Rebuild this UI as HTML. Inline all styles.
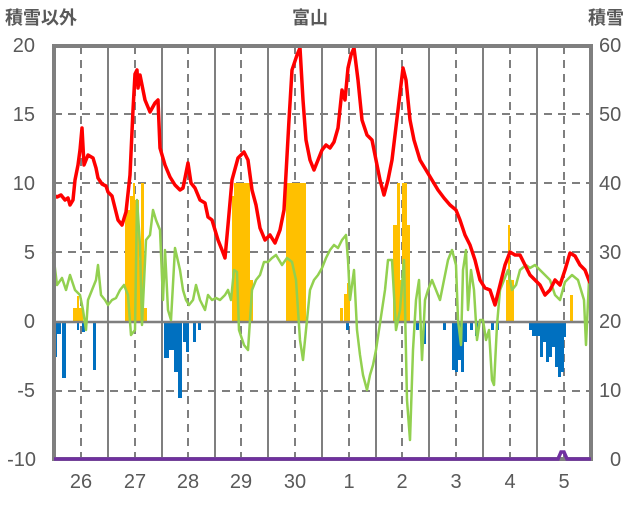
<!DOCTYPE html>
<html><head><meta charset="utf-8"><style>
body{margin:0;background:#fff;}
svg text{font-family:"Liberation Sans","Noto Sans CJK JP",sans-serif;fill:#595959;}
</style></head><body>
<svg width="636" height="501" xmlns="http://www.w3.org/2000/svg">
<rect width="636" height="501" fill="#fff"/>
<g stroke="#7f7f7f" stroke-width="2" stroke-dasharray="8,6">
<line x1="54" y1="114" x2="591" y2="114"/>
<line x1="54" y1="183" x2="591" y2="183"/>
<line x1="54" y1="252" x2="591" y2="252"/>
<line x1="54" y1="391" x2="591" y2="391"/>
</g>
<g stroke="#7f7f7f" stroke-width="2" stroke-dasharray="8,6">
<line x1="81" y1="46" x2="81" y2="459"/><line x1="135" y1="46" x2="135" y2="459"/>
<line x1="188" y1="46" x2="188" y2="459"/><line x1="241" y1="46" x2="241" y2="459"/>
<line x1="295" y1="46" x2="295" y2="459"/><line x1="349" y1="46" x2="349" y2="459"/>
<line x1="402" y1="46" x2="402" y2="459"/><line x1="456" y1="46" x2="456" y2="459"/>
<line x1="510" y1="46" x2="510" y2="459"/><line x1="564" y1="46" x2="564" y2="459"/>
</g>
<g stroke="#7f7f7f" stroke-width="2">
<line x1="108" y1="46" x2="108" y2="459"/><line x1="162" y1="46" x2="162" y2="459"/>
<line x1="215" y1="46" x2="215" y2="459"/><line x1="268" y1="46" x2="268" y2="459"/>
<line x1="322" y1="46" x2="322" y2="459"/><line x1="376" y1="46" x2="376" y2="459"/>
<line x1="429" y1="46" x2="429" y2="459"/><line x1="483" y1="46" x2="483" y2="459"/>
<line x1="537" y1="46" x2="537" y2="459"/>
</g>
<g fill="#ffc000">
<rect x="73" y="308" width="4" height="14"/><rect x="77" y="296" width="2" height="26"/><rect x="79" y="308" width="4" height="14"/>
<rect x="125" y="210" width="5" height="112"/><rect x="130" y="196" width="3" height="126"/><rect x="133" y="183" width="2" height="139"/>
<rect x="135" y="200" width="4" height="122"/><rect x="139" y="260" width="2" height="62"/><rect x="141" y="183" width="3" height="139"/><rect x="144" y="308" width="3" height="14"/>
<rect x="232" y="196" width="2" height="126"/><rect x="234" y="183" width="16" height="139"/><rect x="250" y="280" width="3" height="42"/>
<rect x="286" y="183" width="20" height="139"/>
<rect x="340" y="308" width="3" height="14"/><rect x="344" y="294" width="3" height="28"/><rect x="347" y="283" width="3" height="39"/>
<rect x="393" y="225" width="4" height="97"/><rect x="397" y="183" width="3" height="139"/><rect x="400" y="280" width="2" height="42"/><rect x="402" y="183" width="5" height="139"/><rect x="407" y="225" width="3" height="97"/>
<rect x="508" y="225" width="2" height="97"/><rect x="506" y="280" width="8" height="42"/>
<rect x="570" y="295" width="3" height="27"/>
</g>
<g fill="#0070c0">
<rect x="54" y="322" width="3" height="35"/><rect x="57" y="322" width="4" height="12"/><rect x="62" y="322" width="4" height="56"/>
<rect x="77" y="322" width="2" height="8"/><rect x="82" y="322" width="3" height="10"/><rect x="93" y="322" width="3" height="48"/>
<rect x="164" y="322" width="5" height="36"/><rect x="169" y="322" width="5" height="28"/><rect x="174" y="322" width="4" height="50"/><rect x="178" y="322" width="4" height="76"/><rect x="183" y="322" width="3" height="20"/><rect x="186" y="322" width="3" height="30"/><rect x="193" y="322" width="3" height="20"/><rect x="198" y="322" width="3" height="8"/>
<rect x="346" y="322" width="3" height="8"/><rect x="416" y="322" width="3" height="8"/><rect x="423" y="322" width="3" height="22"/><rect x="443" y="322" width="3" height="8"/>
<rect x="452" y="322" width="3" height="48"/><rect x="455" y="322" width="3" height="50"/><rect x="458" y="322" width="3" height="38"/><rect x="461" y="322" width="3" height="50"/><rect x="464" y="322" width="3" height="20"/><rect x="470" y="322" width="3" height="8"/><rect x="475" y="322" width="3" height="14"/><rect x="491" y="322" width="3" height="8"/><rect x="496" y="322" width="3" height="8"/>
<rect x="529" y="322" width="3" height="8"/><rect x="532" y="322" width="4" height="14"/><rect x="536" y="322" width="4" height="14"/><rect x="540" y="322" width="3" height="35"/><rect x="543" y="322" width="3" height="20"/><rect x="546" y="322" width="3" height="40"/><rect x="549" y="322" width="3" height="35"/><rect x="552" y="322" width="3" height="25"/><rect x="555" y="322" width="3" height="45"/><rect x="558" y="322" width="3" height="55"/><rect x="561" y="322" width="3" height="50"/><rect x="564" y="322" width="2" height="15"/>
</g>
<line x1="54" y1="322" x2="591" y2="322" stroke="#7f7f7f" stroke-width="2.5"/>
<polyline fill="none" stroke="#92d050" stroke-width="2.5" stroke-linejoin="round" points="53,252 57,285 62,278 66,290 70,275 75,290 80,295 83,310 86,330 88,300 92,290 96,280 98,265 101,295 105,300 108,305 112,300 116,298 120,290 124,285 128,295 131,335 135,330 137,200 140,245 142,325 146,240 150,235 153,210 156,220 160,230 163,300 165,250 168,310 171,320 175,248 180,270 183,290 186,300 189,305 193,300 196,285 200,300 205,310 208,295 212,300 216,298 220,300 225,295 228,290 231,300 234,270 237,272 239,330 244,345 248,350 252,290 256,280 260,275 264,262 268,262 272,258 276,255 279,260 282,265 287,258 292,262 296,280 300,340 303,360 306,330 310,290 314,280 318,275 322,268 326,258 330,250 334,245 338,248 342,240 346,235 348,260 350,300 354,270 357,330 360,355 363,375 367,390 370,375 373,365 376,350 379,330 382,310 385,290 388,260 392,260 396,330 400,310 404,260 407,400 410,440 413,350 416,300 419,280 422,360 425,300 428,290 432,280 436,290 440,300 444,280 448,260 452,250 456,265 458,320 461,345 463,270 466,250 468,310 471,270 474,290 477,340 480,320 483,320 486,340 489,330 492,380 494,385 497,325 500,290 504,280 508,270 512,290 516,285 520,270 526,265 530,268 535,265 540,270 545,275 550,280 555,295 560,300 565,282 572,275 578,280 584,300 586,345 589,280 592,275"/>
<polyline fill="none" stroke="#ff0000" stroke-width="3.5" stroke-linejoin="round" points="53,195 57,197 61,195 65,200 68,198 70,205 73,200 75,180 78,165 80,150 82,128 84,165 88,155 93,158 96,168 98,178 102,184 106,186 108,192 112,196 115,208 118,220 122,225 126,212 130,175 133,110 135,74 137,70 138,88 140,75 145,100 150,112 155,103 158,100 160,148 165,165 170,177 175,185 180,190 183,188 185,178 188,163 191,183 195,188 200,200 205,203 208,217 212,220 215,230 218,240 222,250 225,258 228,225 232,180 238,158 244,152 248,160 252,190 256,205 260,228 265,240 270,235 275,243 280,230 284,210 289,120 292,70 297,55 300,48 303,100 306,140 310,160 314,170 318,160 322,150 326,145 330,148 334,142 338,128 342,90 345,100 348,68 351,55 354,48 358,80 362,120 367,135 372,140 376,160 380,180 384,195 388,180 392,160 398,110 403,68 406,80 410,120 414,140 420,160 426,170 432,180 438,190 444,198 450,205 456,210 460,220 465,235 470,245 475,260 480,280 485,288 490,290 495,305 500,285 505,265 510,252 515,255 520,255 525,265 530,275 535,280 540,285 545,295 550,290 555,280 560,285 565,270 570,253 575,256 580,265 585,270 590,283"/>
<rect x="54" y="46" width="537" height="413" fill="none" stroke="#7f7f7f" stroke-width="4"/>
<polyline fill="none" stroke="#7030a0" stroke-width="3.5" points="54,459 558,459 561,452 564,452 567,459 591,459"/>
<g font-size="20" text-anchor="end">
<text x="35" y="52">20</text><text x="35" y="121">15</text><text x="35" y="190">10</text>
<text x="35" y="259">5</text><text x="35" y="328">0</text><text x="35" y="397">-5</text><text x="36" y="466">-10</text>
</g>
<g font-size="20" text-anchor="start">
<text x="599" y="52">60</text><text x="599" y="121">50</text><text x="599" y="190">40</text>
<text x="599" y="259">30</text><text x="599" y="328">20</text><text x="599" y="397">10</text><text x="610" y="466">0</text>
</g>
<g font-size="20" text-anchor="middle">
<text x="81" y="488">26</text><text x="135" y="488">27</text><text x="188" y="488">28</text><text x="241" y="488">29</text>
<text x="295" y="488">30</text><text x="349" y="488">1</text><text x="402" y="488">2</text><text x="456" y="488">3</text>
<text x="510" y="488">4</text><text x="564" y="488">5</text>
</g>
<text x="5" y="24" font-size="18" font-weight="bold">積雪以外</text>
<text x="310" y="24" font-size="18" font-weight="bold" text-anchor="middle">富山</text>
<text x="588" y="24" font-size="18" font-weight="bold">積雪</text>
</svg>
</body></html>
